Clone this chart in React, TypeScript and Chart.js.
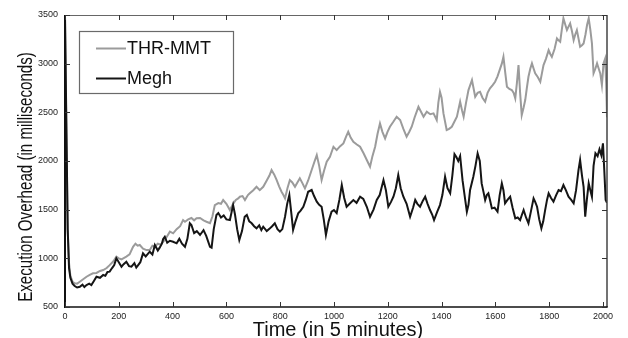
import { useEffect, useRef } from "react";
import { Chart, registerables } from "chart.js";

Chart.register(...registerables);

const xTitle = "Time (in 5 minutes)";
const yTitle = "Execution Overhead (in milliseconds)";
const seriesNames = ["THR-MMT", "Megh"];
const xRange = [0, 2015];
const xTickValues = [0, 200, 400, 600, 800, 1000, 1200, 1400, 1600, 1800, 2000];
const yRange = [500, 3500];
const yTickValues = [500, 1000, 1500, 2000, 2500, 3000, 3500];

const thrTime = [
  0, 5, 10, 15, 20, 28, 36, 45, 55, 65,
  80, 92, 104, 117, 130, 142, 155, 166, 180, 191,
  200, 210, 228, 240, 253, 262, 270, 278, 290, 303,
  315, 325, 334, 345, 356, 365, 378, 390, 402, 415,
  428, 439, 446, 458, 470, 480, 489, 502, 515, 526,
  539, 548, 557, 570, 580, 588, 600, 613, 625, 635,
  644, 650, 660, 669, 680, 687, 700, 712, 724, 737,
  750, 760, 768, 778, 787, 796, 805, 812, 818, 827,
  836, 845, 855, 864, 873, 883, 892, 904, 917, 927,
  936, 945, 954, 963, 973, 985, 998, 1010, 1022, 1035,
  1045, 1053, 1062, 1072, 1085, 1097, 1110, 1122, 1134, 1143,
  1153, 1162, 1171, 1180, 1190, 1199, 1208, 1220, 1233, 1246,
  1258, 1270, 1280, 1289, 1300, 1314, 1333, 1345, 1358, 1370,
  1382, 1388, 1394, 1400, 1407, 1419, 1428, 1438, 1447, 1457,
  1469, 1476, 1482, 1491, 1500, 1513, 1525, 1534, 1543, 1552,
  1562, 1571, 1580, 1590, 1599, 1608, 1618, 1624, 1630, 1637,
  1643, 1652, 1661, 1668, 1674, 1680, 1686, 1692, 1698, 1705,
  1711, 1717, 1723, 1730, 1736, 1742, 1748, 1758, 1767, 1773,
  1779, 1788, 1798, 1804, 1810, 1820, 1829, 1835, 1841, 1847,
  1853, 1860, 1866, 1872, 1878, 1885, 1891, 1897, 1903, 1909,
  1915, 1922, 1928, 1935, 1941, 1947, 1953, 1959, 1965, 1972,
  1978, 1984, 1990, 1996, 2002, 2008, 2012, 2015,
];
const thrValues = [
  3480, 2300, 1300, 950, 820, 760, 743, 740, 760, 780,
  811, 830, 846, 850, 870, 880, 900, 930, 970, 1017,
  1000, 990, 1017, 1040, 1119, 1150, 1130, 1137, 1100, 1085,
  1085, 1130, 1120, 1150, 1140, 1170, 1220, 1274, 1257, 1300,
  1330, 1393, 1376, 1400, 1414, 1390, 1411, 1414, 1390, 1376,
  1362, 1430, 1547, 1568, 1560, 1599, 1560, 1496, 1560, 1600,
  1616, 1633, 1640, 1599, 1650, 1668, 1700, 1735, 1700, 1735,
  1800, 1850, 1907, 1860, 1804, 1740, 1684, 1650, 1616, 1720,
  1804, 1780, 1735, 1780, 1822, 1770, 1719, 1800, 1907, 1990,
  2061, 1950, 1804, 1900, 1992, 2044, 2146, 2112, 2150, 2181,
  2250, 2300, 2240, 2198, 2170, 2146, 2080, 2010, 1941, 2050,
  2146, 2280, 2386, 2300, 2232, 2300, 2352, 2400, 2455, 2421,
  2330, 2250, 2300, 2352, 2450, 2557, 2455, 2506, 2480, 2489,
  2421, 2600, 2711, 2650, 2489, 2318, 2330, 2352, 2400, 2455,
  2609, 2520, 2455, 2600, 2729, 2831, 2660, 2700, 2711, 2650,
  2609, 2700, 2746, 2780, 2814, 2870, 2951, 3000, 3071, 2900,
  2763, 2740, 2729, 2700, 2643, 2800, 2985, 2700, 2472, 2550,
  2626, 2750, 2865, 2950, 3003, 2950, 2900, 2860, 2814, 2900,
  2985, 3050, 3139, 3100, 3071, 3150, 3259, 3240, 3225, 3350,
  3465, 3400, 3345, 3380, 3414, 3330, 3242, 3300, 3345, 3260,
  3174, 3190, 3208, 3300, 3400, 3465, 3350, 3208, 2900, 2950,
  3003, 2950, 2900, 2780, 3003, 3050, 2800, 2450,
];

const meghTime = [
  0, 5, 10, 15, 20, 28, 36, 45, 55, 65,
  72, 80, 90, 98, 108, 117, 130, 142, 150, 158,
  166, 175, 183, 191, 200, 210, 218, 228, 238, 247,
  258, 265, 272, 280, 290, 300, 315, 325, 334, 345,
  352, 360, 365, 371, 380, 390, 402, 415, 425, 435,
  446, 455, 464, 470, 480, 490, 502, 515, 525, 539,
  545, 553, 563, 570, 580, 590, 600, 613, 625, 632,
  640, 648, 658, 668, 676, 685, 694, 703, 712, 722,
  730, 737, 750, 762, 770, 780, 790, 799, 808, 818,
  826, 834, 842, 848, 857, 867, 876, 886, 895, 904,
  917, 926, 936, 945, 954, 962, 970, 980, 991, 1000,
  1010, 1020, 1029, 1038, 1047, 1058, 1072, 1084, 1097, 1109,
  1122, 1134, 1147, 1159, 1170, 1184, 1193, 1202, 1212, 1221,
  1230, 1239, 1248, 1258, 1270, 1283, 1294, 1302, 1310, 1320,
  1330, 1339, 1348, 1357, 1365, 1372, 1384, 1394, 1403, 1413,
  1422, 1432, 1440, 1448, 1455, 1462, 1469, 1478, 1488, 1494,
  1500, 1506, 1518, 1526, 1534, 1542, 1549, 1556, 1562, 1568,
  1574, 1580, 1587, 1597, 1608, 1616, 1624, 1630, 1636, 1645,
  1655, 1664, 1674, 1683, 1692, 1699, 1705, 1714, 1723, 1732,
  1742, 1748, 1755, 1763, 1771, 1778, 1785, 1792, 1798, 1807,
  1816, 1826, 1835, 1844, 1853, 1862, 1872, 1882, 1891, 1900,
  1909, 1915, 1922, 1928, 1934, 1940, 1947, 1953, 1959, 1965,
  1972, 1980, 1987, 1994, 2000, 2005, 2010, 2015,
];
const meghValues = [
  3480, 2400, 1300, 900, 800, 740, 716, 700, 708, 730,
  705, 726, 740, 726, 770, 811, 800, 829, 820, 860,
  863, 900, 930, 1000, 960, 914, 940, 965, 920, 914,
  950, 905, 931, 960, 1051, 1020, 1068, 1040, 1137, 1080,
  1110, 1150, 1200, 1222, 1160, 1180, 1170, 1154, 1200, 1150,
  1119, 1200, 1360, 1342, 1260, 1280, 1240, 1290, 1230, 1119,
  1110, 1300, 1445, 1465, 1420, 1440, 1400, 1393, 1547, 1450,
  1300, 1188, 1280, 1427, 1445, 1380, 1360, 1330, 1308, 1340,
  1290, 1325, 1280, 1308, 1330, 1360, 1300, 1274, 1300, 1427,
  1560, 1650, 1450, 1291, 1380, 1462, 1490, 1530, 1600, 1684,
  1702, 1640, 1582, 1550, 1530, 1400, 1240, 1380, 1479, 1496,
  1465, 1600, 1753, 1620, 1530, 1560, 1599, 1570, 1633, 1610,
  1530, 1427, 1500, 1599, 1650, 1804, 1700, 1530, 1580, 1633,
  1720, 1856, 1720, 1633, 1560, 1427, 1520, 1600, 1560, 1530,
  1590, 1633, 1560, 1496, 1450, 1393, 1480, 1547, 1650, 1838,
  1720, 1668, 1850, 2070, 2040, 2000, 2050, 1800, 1599, 1479,
  1550, 1702, 1838, 1950, 2078, 2000, 1770, 1680, 1599, 1650,
  1668, 1600, 1513, 1520, 1479, 1650, 1770, 1700, 1565, 1600,
  1633, 1520, 1411, 1420, 1393, 1450, 1496, 1420, 1360, 1480,
  1616, 1580, 1530, 1400, 1308, 1380, 1496, 1600, 1668, 1620,
  1582, 1650, 1702, 1690, 1753, 1700, 1633, 1600, 1565, 1700,
  1907, 2010, 1850, 1735, 1427, 1600, 1770, 1700, 1633, 1950,
  2080, 2050, 2120, 2060, 2181, 1900, 1600, 1570,
];

const seriesColors = ["#9b9b9b", "#151515"];
const FONT = '"Liberation Sans", Arial, Helvetica, sans-serif';

const toPoints = (ts: number[], vs: number[]) =>
  ts.map((t, i) => ({ x: t, y: vs[i] }));

const framePlugin = {
  id: "frameAndLegend",
  afterDraw(chart: any) {
    const { ctx, chartArea: a, scales } = chart;
    const sx = scales.x;
    const sy = scales.y;
    ctx.save();

    // frame
    ctx.lineCap = "butt";
    ctx.strokeStyle = "#666";
    ctx.lineWidth = 1;
    ctx.beginPath();
    ctx.moveTo(a.left, a.top + 0.5);
    ctx.lineTo(a.right, a.top + 0.5);
    ctx.stroke();
    ctx.strokeStyle = "#444";
    ctx.lineWidth = 1.5;
    ctx.beginPath();
    ctx.moveTo(a.right, a.top);
    ctx.lineTo(a.right, a.bottom);
    ctx.stroke();
    ctx.strokeStyle = "#111";
    ctx.lineWidth = 2;
    ctx.beginPath();
    ctx.moveTo(a.left, a.top);
    ctx.lineTo(a.left, a.bottom + 1);
    ctx.stroke();
    ctx.lineWidth = 1.5;
    ctx.beginPath();
    ctx.moveTo(a.left, a.bottom);
    ctx.lineTo(a.right + 0.75, a.bottom);
    ctx.stroke();

    // inward ticks
    ctx.lineWidth = 1;
    ctx.strokeStyle = "#333";
    const tl = 5;
    sx.ticks.forEach((t: any) => {
      const px = Math.round(sx.getPixelForValue(t.value)) + 0.5;
      ctx.beginPath();
      ctx.moveTo(px, a.bottom);
      ctx.lineTo(px, a.bottom - tl);
      ctx.moveTo(px, a.top);
      ctx.lineTo(px, a.top + tl);
      ctx.stroke();
    });
    sy.ticks.forEach((t: any) => {
      const py = Math.round(sy.getPixelForValue(t.value)) + 0.5;
      ctx.beginPath();
      ctx.moveTo(a.left, py);
      ctx.lineTo(a.left + tl, py);
      ctx.moveTo(a.right, py);
      ctx.lineTo(a.right - tl, py);
      ctx.stroke();
    });

    // legend
    const lx = 79.5, ly = 31.5, lw = 154, lh = 62;
    ctx.fillStyle = "#fff";
    ctx.fillRect(lx, ly, lw, lh);
    ctx.strokeStyle = "#6a6a6a";
    ctx.lineWidth = 1.2;
    ctx.strokeRect(lx, ly, lw, lh);
    ctx.font = `18px ${FONT}`;
    ctx.textBaseline = "middle";
    ctx.textAlign = "left";
    chart.data.datasets.forEach((ds: any, i: number) => {
      const yy = 48.5 + i * 30;
      ctx.strokeStyle = ds.borderColor;
      ctx.lineWidth = 2;
      ctx.beginPath();
      ctx.moveTo(96, yy);
      ctx.lineTo(126, yy);
      ctx.stroke();
      ctx.fillStyle = "#111";
      ctx.fillText(ds.label, 127, yy + 1);
    });

    // axis titles
    ctx.fillStyle = "#111";
    ctx.font = `20px ${FONT}`;
    ctx.textAlign = "center";
    ctx.textBaseline = "alphabetic";
    ctx.fillText(xTitle, (a.left + a.right) / 2 + 2, 336);

    ctx.save();
    ctx.translate(32, 177);
    ctx.rotate(-Math.PI / 2);
    ctx.scale(0.72, 1);
    ctx.font = `21px ${FONT}`;
    ctx.fillText(yTitle, 0, 0);
    ctx.restore();

    ctx.restore();
  },
};

export default function App() {
  const ref = useRef<HTMLCanvasElement | null>(null);

  useEffect(() => {
    if (!ref.current) return;
    const chart = new Chart(ref.current, {
      type: "line",
      data: {
        datasets: [
          {
            label: seriesNames[0],
            data: toPoints(thrTime, thrValues),
            borderColor: seriesColors[0],
            borderWidth: 2,
            pointRadius: 0,
            tension: 0,
            fill: false,
            order: 2,
          },
          {
            label: seriesNames[1],
            data: toPoints(meghTime, meghValues),
            borderColor: seriesColors[1],
            borderWidth: 2,
            pointRadius: 0,
            tension: 0,
            fill: false,
            order: 1,
          },
        ],
      },
      options: {
        responsive: false,
        animation: false,
        devicePixelRatio: 1,
        layout: { padding: { top: 15, right: 21, left: 0, bottom: 0 } },
        plugins: {
          legend: { display: false },
          tooltip: { enabled: false },
        },
        scales: {
          x: {
            type: "linear",
            min: xRange[0],
            max: xRange[1],
            grid: { display: false, drawTicks: false },
            border: { display: false },
            afterBuildTicks: (s: any) => {
              s.ticks = xTickValues.map((v) => ({ value: v }));
            },
            ticks: {
              maxRotation: 0,
              autoSkip: false,
              padding: 4,
              color: "#222",
              font: { family: FONT, size: 9 },
              callback: (v: any) => String(v),
            },
            afterFit: (s: any) => {
              s.height = 31;
            },
          },
          y: {
            type: "linear",
            min: yRange[0],
            max: yRange[1],
            grid: { display: false, drawTicks: false },
            border: { display: false },
            afterBuildTicks: (s: any) => {
              s.ticks = yTickValues.map((v) => ({ value: v }));
            },
            ticks: {
              autoSkip: false,
              padding: 7,
              color: "#222",
              font: { family: FONT, size: 9 },
              callback: (v: any) => String(v),
            },
            afterFit: (s: any) => {
              s.width = 65;
            },
          },
        },
      },
      plugins: [framePlugin],
    });
    return () => chart.destroy();
  }, []);

  return (
    <div style={{ position: "absolute", left: 0, top: 0, width: 628, height: 338, background: "#fff" }}>
      <canvas ref={ref} width={628} height={338} style={{ display: "block" }} />
    </div>
  );
}
